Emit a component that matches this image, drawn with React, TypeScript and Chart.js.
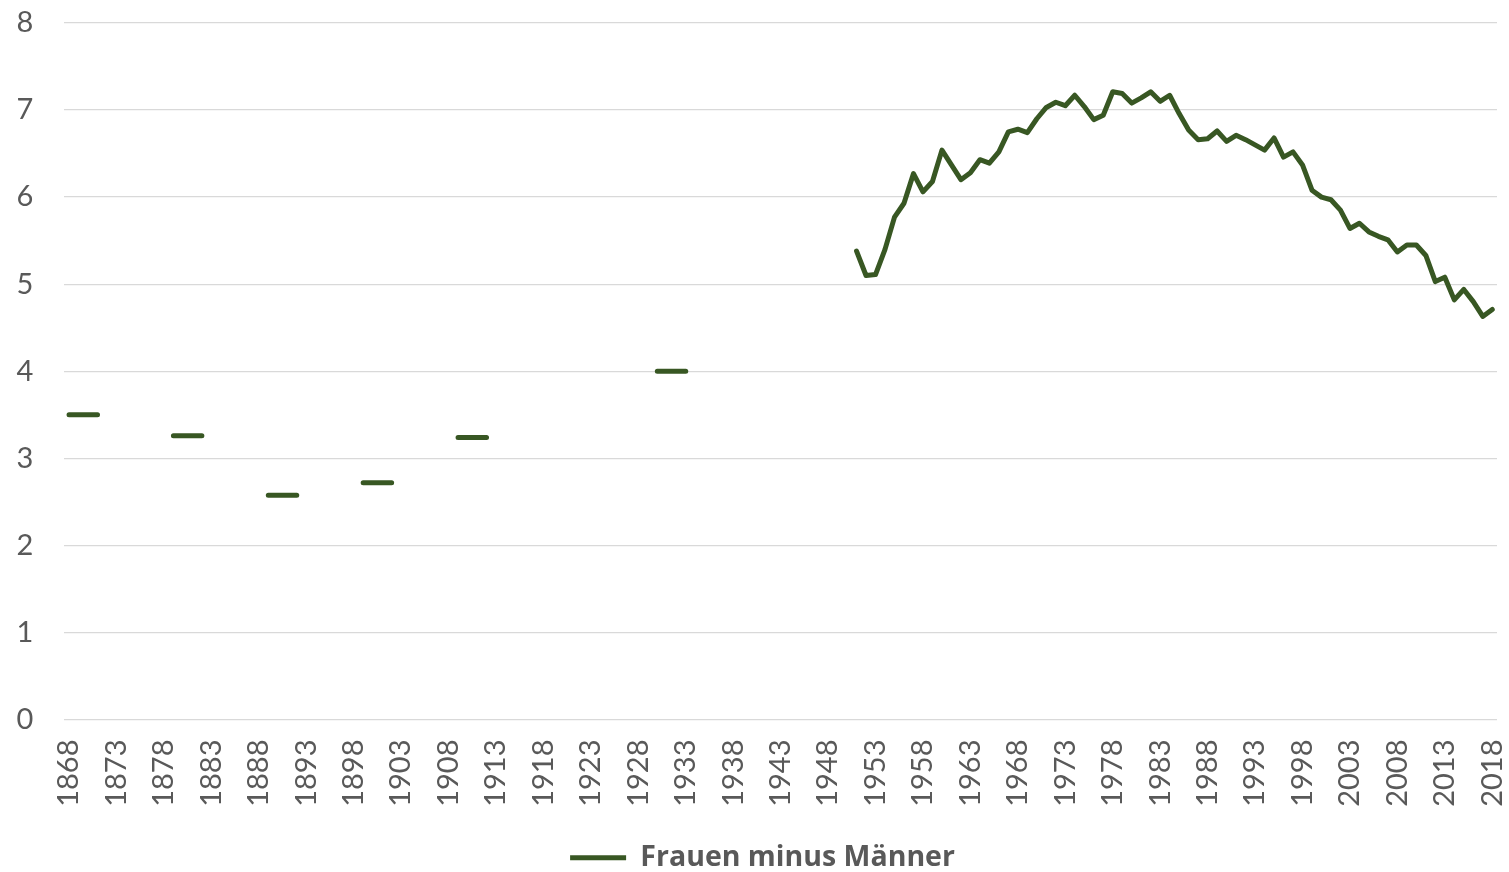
import React, { useEffect, useRef } from "react";
import { Chart, registerables } from "chart.js";

Chart.register(...registerables);

// Year axis: one category per year
const firstYear = 1868;
const lastYear = 2018;
const years: string[] = Array.from({ length: lastYear - firstYear + 1 }, (_, i) => String(firstYear + i));

// Early census periods: [start year, end year, value]
const censusStarts = [1868, 1879, 1889, 1899, 1909, 1930];
const censusEnds = [1871, 1882, 1892, 1902, 1912, 1933];
const censusValues = [3.5, 3.26, 2.575, 2.72, 3.24, 4.0];

// Annual series from 1951 on
const annualStart = 1951;
const annualValues = [
  5.38, 5.10, 5.11, 5.40, 5.77, 5.93, 6.27, 6.06, 6.18, 6.54,
  6.37, 6.20, 6.28, 6.43, 6.39, 6.52, 6.75, 6.78, 6.74, 6.90,
  7.03, 7.09, 7.05, 7.17, 7.04, 6.89, 6.94, 7.21, 7.19, 7.08,
  7.14, 7.21, 7.10, 7.17, 6.96, 6.77, 6.66, 6.67, 6.76, 6.64,
  6.71, 6.66, 6.60, 6.54, 6.68, 6.46, 6.52, 6.37, 6.08, 6.00,
  5.97, 5.85, 5.64, 5.70, 5.60, 5.55, 5.51, 5.37, 5.45, 5.45,
  5.33, 5.03, 5.08, 4.82, 4.94, 4.80, 4.63, 4.71,
];

const seriesLabel = "Frauen minus Männer";
const lineColor = "#385723";
const textColor = "#595959";
const gridColor = "#d9d9d9";
const tickFont = "Lato, 'Open Sans', sans-serif";
const legendFont = "'Open Sans', Lato, sans-serif";

function buildSeries(): (number | null)[] {
  const values: (number | null)[] = years.map(() => null);
  censusStarts.forEach((start, i) => {
    for (let y = start; y <= censusEnds[i]; y++) values[y - firstYear] = censusValues[i];
  });
  annualValues.forEach((v, i) => {
    values[annualStart + i - firstYear] = v;
  });
  return values;
}

// Keep the plot area where the layout padding puts it (no label overhang padding)
function dropScalePadding(scale: any) {
  scale.paddingTop = 0;
  scale.paddingBottom = 0;
  scale.paddingLeft = 0;
  scale.paddingRight = 0;
}

// Nudge the legend box a little right and down from its default slot
const legendNudge = {
  id: "legendNudge",
  afterLayout(chart: any) {
    const lg = chart.legend;
    if (!lg) return;
    lg.left += 14;
    lg.right += 14;
    lg.top += 10;
    lg.bottom += 10;
  },
};

export default function App() {
  const canvasRef = useRef<HTMLCanvasElement | null>(null);

  useEffect(() => {
    if (!canvasRef.current) return;
    const chart = new Chart(canvasRef.current, {
      type: "line",
      data: {
        labels: years,
        datasets: [
          {
            label: seriesLabel,
            data: buildSeries(),
            borderColor: lineColor,
            backgroundColor: lineColor,
            borderWidth: 5,
            borderCapStyle: "round",
            borderJoinStyle: "round",
            pointRadius: 0,
            pointHoverRadius: 0,
            tension: 0,
            spanGaps: false,
          },
        ],
      },
      plugins: [legendNudge],
      options: {
        animation: false,
        responsive: true,
        maintainAspectRatio: false,
        layout: { padding: { top: 23, right: 12, left: 0, bottom: 0 } },
        plugins: {
          tooltip: { enabled: false },
          legend: {
            display: true,
            position: "bottom",
            labels: {
              color: textColor,
              font: { family: legendFont, size: 28.5, weight: "bold" },
              boxWidth: 56,
              boxHeight: 5,
              padding: 6,
              generateLabels: (c) =>
                c.data.datasets.map((ds, i) => ({
                  text: ds.label as string,
                  fillStyle: lineColor,
                  strokeStyle: lineColor,
                  lineWidth: 0,
                  hidden: false,
                  datasetIndex: i,
                  fontColor: textColor,
                })),
            },
          },
        },
        scales: {
          x: {
            type: "category",
            offset: true,
            grid: { display: false, drawTicks: false },
            border: { display: false },
            ticks: {
              autoSkip: false,
              maxRotation: 90,
              minRotation: 90,
              padding: 20,
              color: textColor,
              font: { family: tickFont, size: 29 },
              callback: (_v, index) => (index % 5 === 0 ? years[index] : ""),
            },
            afterFit: (scale) => {
              dropScalePadding(scale);
              scale.height = 108;
            },
          },
          y: {
            min: 0,
            max: 8,
            grid: { color: gridColor, lineWidth: 1.3, drawTicks: false },
            border: { display: false },
            ticks: {
              stepSize: 1,
              padding: 31,
              color: textColor,
              font: { family: tickFont, size: 29 },
            },
            afterFit: (scale) => {
              dropScalePadding(scale);
              scale.width = 64.3;
            },
          },
        },
      },
    });
    return () => chart.destroy();
  }, []);

  return (
    <div style={{ position: "absolute", left: 0, top: 0, width: 1509, height: 872, background: "#fff" }}>
      <canvas ref={canvasRef} />
    </div>
  );
}
